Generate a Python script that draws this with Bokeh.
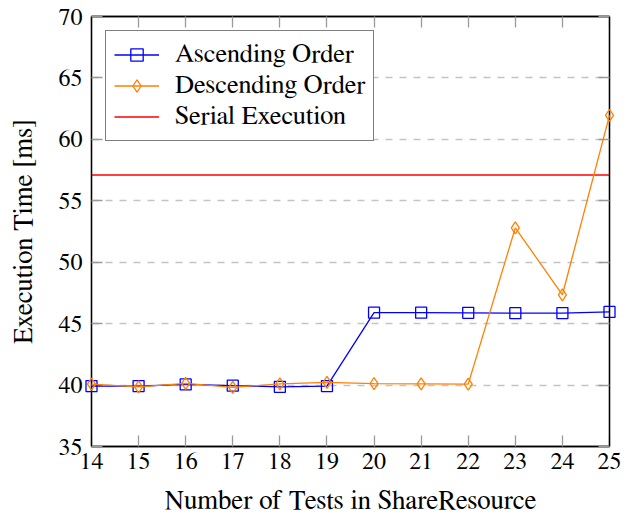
from bokeh.plotting import figure
from bokeh.models import Range1d, FixedTicker, LinearAxis, Legend
from bokeh.embed import file_html
from bokeh.resources import INLINE

# ---- data ----
tests = [14, 15, 16, 17, 18, 19, 20, 21, 22, 23, 24, 25]
ascending = [39.92, 39.92, 40.05, 39.95, 39.86, 39.92, 45.89, 45.89, 45.88, 45.85, 45.86, 45.95]
descending = [40.08, 39.86, 40.14, 39.81, 40.10, 40.22, 40.12, 40.10, 40.08, 52.8, 47.35, 61.95]
serial_time = 57.1
y_ticks = [35, 40, 45, 50, 55, 60, 65, 70]
labels = ["Ascending Order", "Descending Order", "Serial Execution"]
x_label = "Number of Tests in ShareResource"
y_label = "Execution Time [ms]"

FONT = "FreeSerif"

p = figure(frame_width=518, frame_height=430,
           min_border_left=91, min_border_right=19, min_border_top=16, min_border_bottom=60,
           x_range=Range1d(tests[0], tests[-1]), y_range=Range1d(y_ticks[0], y_ticks[-1]),
           output_backend="svg", toolbar_location=None,
           background_fill_color="white", border_fill_color="white")

p.outline_line_color = "black"
p.outline_line_width = 1.3
p.xgrid.visible = False
p.ygrid.ticker = FixedTicker(ticks=y_ticks)
p.ygrid.grid_line_color = "#c4c4c4"
p.ygrid.grid_line_dash = "7 7"
p.ygrid.grid_line_width = 1.3

def style_axis(ax, ticks, show_labels):
    ax.ticker = FixedTicker(ticks=ticks)
    ax.major_tick_in = 11
    ax.major_tick_out = 0
    ax.minor_tick_in = 0
    ax.minor_tick_out = 0
    ax.major_tick_line_color = "#9a9a9a"
    ax.major_tick_line_width = 1.3
    ax.axis_line_color = "black"
    ax.axis_line_width = 1.3
    ax.major_label_text_font = FONT
    if show_labels:
        ax.major_label_text_font_size = "24px"
        ax.major_label_text_color = "black"
    else:
        ax.major_label_text_font_size = "1px"
        ax.major_label_text_color = None
        ax.major_label_standoff = 0

style_axis(p.xaxis[0], tests, True)
style_axis(p.yaxis[0], y_ticks, True)
p.xaxis[0].major_label_standoff = 6
p.yaxis[0].major_label_standoff = 9

p.xaxis[0].axis_label = x_label
p.yaxis[0].axis_label = y_label
for ax in (p.xaxis[0], p.yaxis[0]):
    ax.axis_label_text_font = FONT
    ax.axis_label_text_font_size = "27px"
    ax.axis_label_text_font_style = "normal"
    ax.axis_label_text_color = "black"
p.xaxis[0].axis_label_standoff = 15
p.yaxis[0].axis_label_standoff = 19

top_ax = LinearAxis()
right_ax = LinearAxis()
style_axis(top_ax, tests, False)
style_axis(right_ax, y_ticks, False)
p.add_layout(top_ax, "above")
p.add_layout(right_ax, "right")

# ---- series ----
r_serial = p.line([tests[0], tests[-1]], [serial_time, serial_time], line_color="#ff0000", line_width=1.3)

r_asc_l = p.line(tests, ascending, line_color="#0000ff", line_width=1.3, level="overlay")
r_asc_m = p.scatter(tests, ascending, marker="square", size=11, fill_color=None,
                    line_color="#0000ff", line_width=1.3, level="overlay")

r_des_l = p.line(tests, descending, line_color="#ff8000", line_width=1.3, level="overlay")
r_des_m = p.scatter(tests, descending, marker="diamond", size=12, fill_color=None,
                    line_color="#ff8000", line_width=1.3, level="overlay")

legend = Legend(items=[(labels[0], [r_asc_l, r_asc_m]),
                       (labels[1], [r_des_l, r_des_m]),
                       (labels[2], [r_serial])],
                location="top_left")
legend.margin = 14
legend.padding = 8
legend.spacing = 0
legend.glyph_width = 45
legend.glyph_height = 31
legend.label_height = 31
legend.label_standoff = 16
legend.label_text_font = FONT
legend.label_text_font_size = "26.5px"
legend.label_text_color = "black"
legend.border_line_color = "black"
legend.border_line_width = 1.3
legend.background_fill_color = "white"
legend.background_fill_alpha = 1.0
p.add_layout(legend, "center")

open("out.html", "w").write(file_html(p, INLINE))
